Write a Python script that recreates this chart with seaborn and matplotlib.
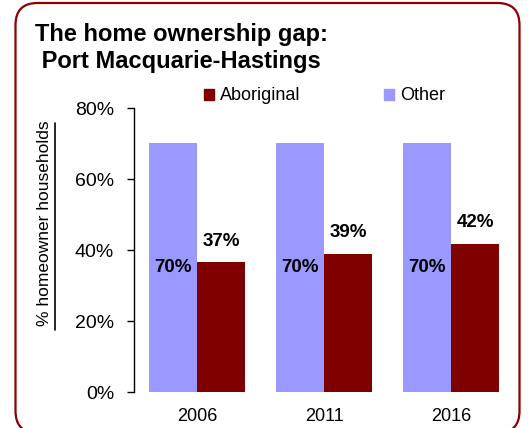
import matplotlib
matplotlib.use("Agg")
import matplotlib.pyplot as plt
import numpy as np
import pandas as pd
import seaborn as sns
from matplotlib.lines import Line2D
from matplotlib.patches import FancyBboxPatch, Patch
from matplotlib.ticker import FuncFormatter

years = ["2006", "2011", "2016"]
other = [70.3, 70.2, 70.1]
aboriginal = [36.6, 39.0, 41.9]
groups = ["Other", "Aboriginal"]
colors = {"Other": "#9999FF", "Aboriginal": "#800000"}

df = pd.DataFrame({
    "year": years * 2,
    "group": ["Other"] * 3 + ["Aboriginal"] * 3,
    "pct": other + aboriginal,
})

sns.set_style("white")
plt.rcParams["font.family"] = ["Liberation Sans", "DejaVu Sans"]
plt.rcParams["text.color"] = "black"
plt.rcParams["xtick.color"] = "black"
plt.rcParams["ytick.color"] = "black"

fig = plt.figure(figsize=(5.28, 4.28), dpi=100)
ax = fig.add_axes([133.5 / 528, 35.7 / 428, 381 / 528, 284 / 428])

sns.barplot(data=df, x="year", y="pct", hue="group", hue_order=groups,
            palette=colors, width=0.76, saturation=1, linewidth=0,
            ax=ax, legend=False)

ax.set_xlim(-0.5, 2.5)
ax.set_ylim(0, 80)
ax.set_yticks([0, 20, 40, 60, 80])
ax.yaxis.set_major_formatter(FuncFormatter(lambda v, p: f"{v:.0f}%"))
ax.set_xlabel("")
ax.set_ylabel("")
for s in ["top", "right", "bottom"]:
    ax.spines[s].set_visible(False)
ax.spines["left"].set_color("black")
ax.spines["left"].set_linewidth(1)
ax.tick_params(axis="y", left=True, length=5, width=1, direction="out",
               pad=9, labelsize=14, color="black", labelcolor="black")
ax.tick_params(axis="x", bottom=False, length=0, pad=11, labelsize=13,
               labelcolor="black")

# data labels
ax.bar_label(ax.containers[0], fmt="{:.0f}%", label_type="center",
             fontsize=13.5, fontweight="bold", color="black")
ax.bar_label(ax.containers[1], fmt="{:.0f}%", label_type="edge", padding=9,
             fontsize=13.5, fontweight="bold", color="black")

# legend (Aboriginal first)
handles = [Patch(color=colors["Aboriginal"]), Patch(color=colors["Other"])]
fig.legend(handles, ["Aboriginal", "Other"], ncol=2, frameon=False,
           loc="center left", bbox_to_anchor=(204 / 528, 1 - 96 / 428),
           fontsize=13, handlelength=0.55, handleheight=0.55,
           handletextpad=0.35, columnspacing=4.6, borderpad=0, borderaxespad=0)

fig.text(35 / 528, 1 - 23 / 428, "The home ownership gap:\n Port Macquarie-Hastings",
         ha="left", va="top", fontsize=17, fontweight="bold", color="black")

fig.text(45 / 528, 1 - 223.5 / 428, "% homeowner households", rotation=90,
         ha="center", va="center", fontsize=12.5, color="black")
fig.add_artist(Line2D([54.5 / 528, 54.5 / 528], [1 - 123 / 428, 1 - 330 / 428],
                      transform=fig.transFigure, color="black", lw=1.2))

# rounded border
fig.add_artist(FancyBboxPatch((0.155, -0.05), 5.04, 4.30,
                              boxstyle="round,pad=0,rounding_size=0.22",
                              transform=fig.dpi_scale_trans, fill=False,
                              edgecolor="#8B0000", lw=1.6))

fig.savefig("out.png", dpi=100)
